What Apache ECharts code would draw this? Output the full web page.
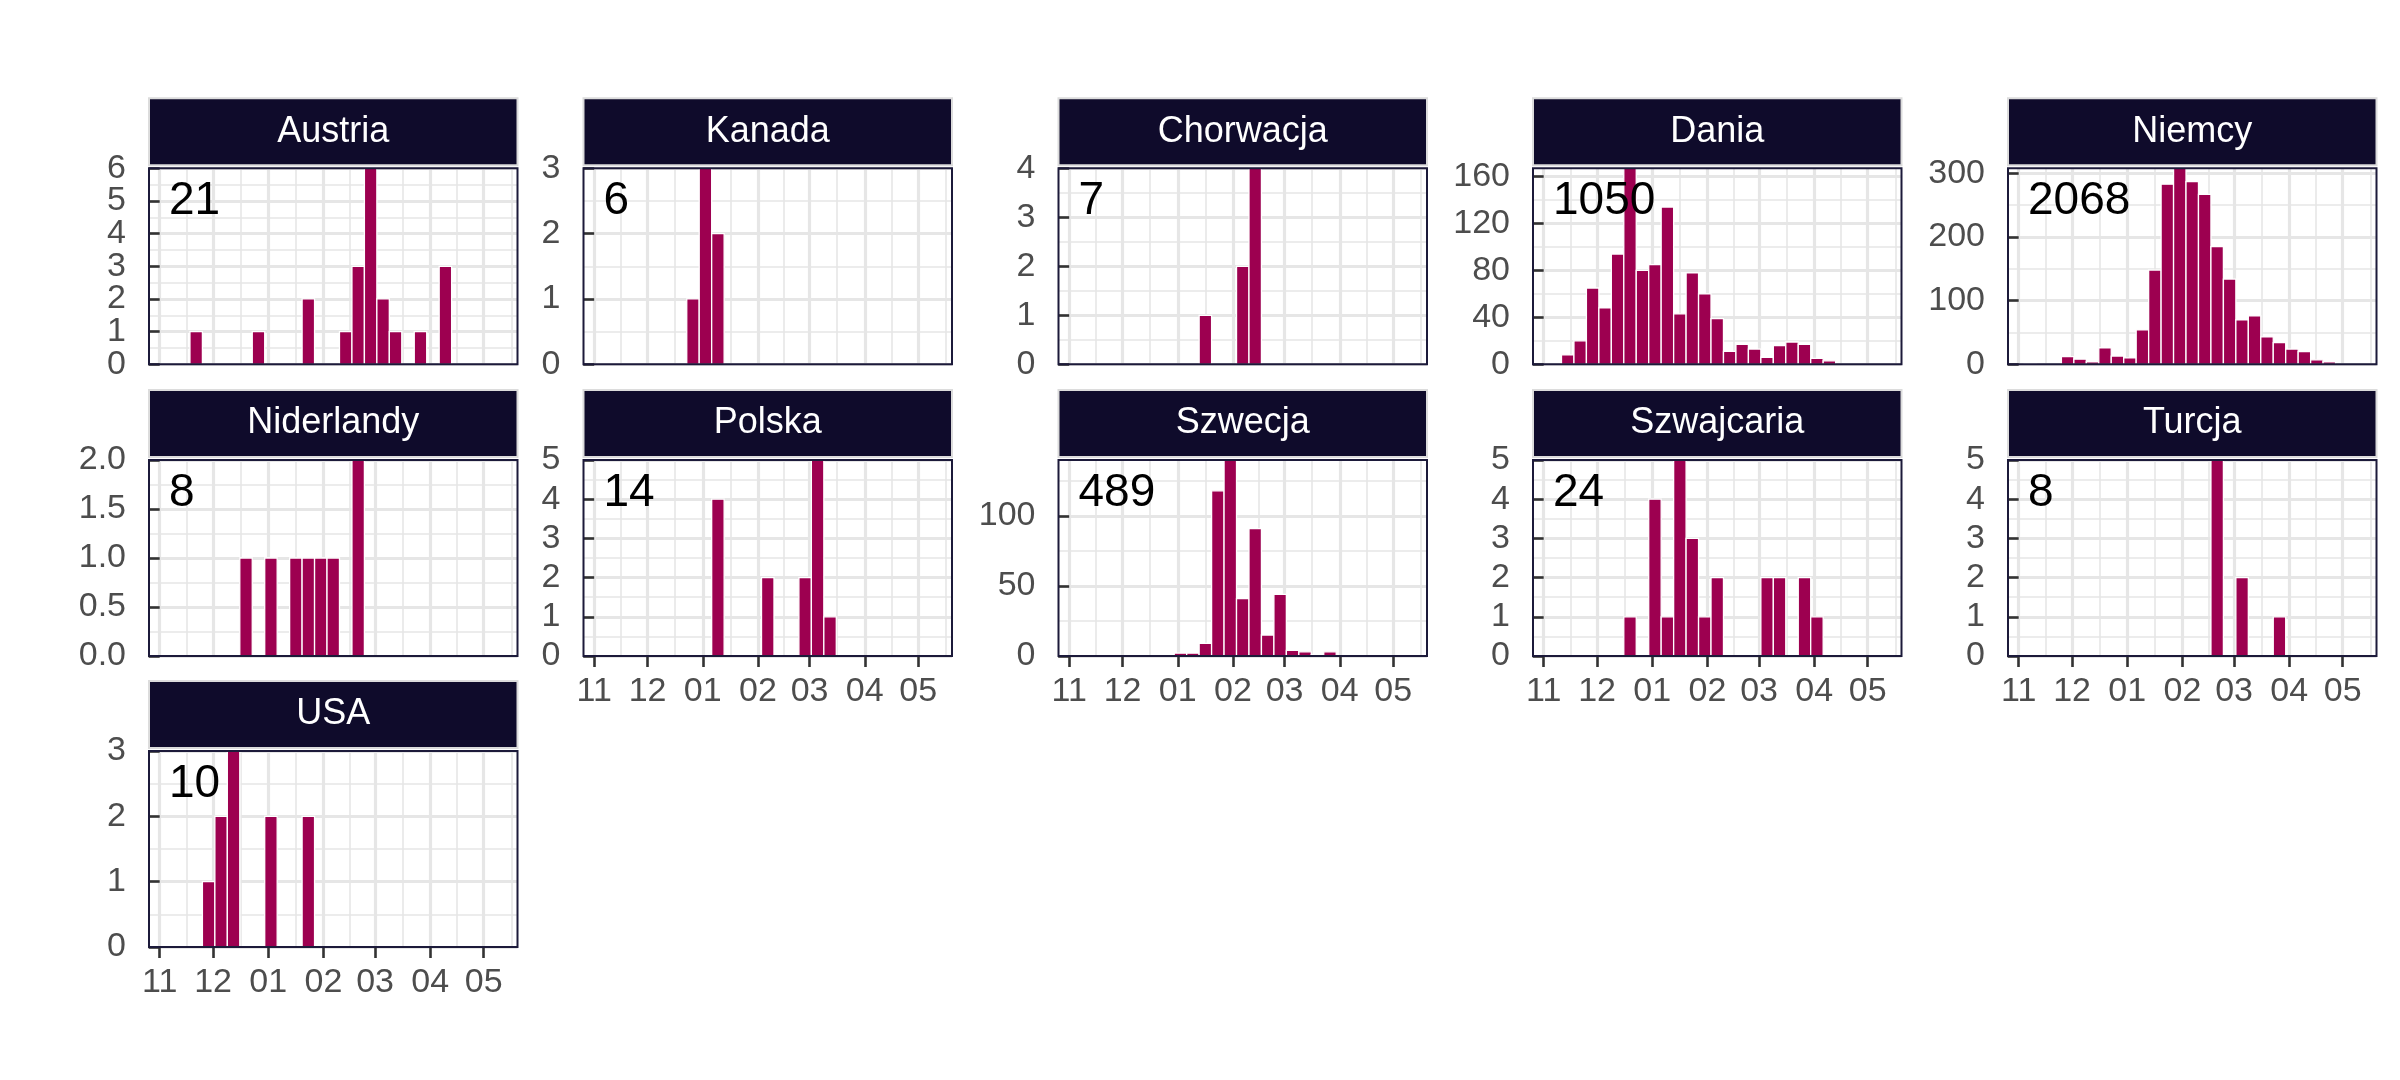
<!DOCTYPE html>
<html>
<head>
<meta charset="utf-8">
<script src="https://cdn.jsdelivr.net/npm/echarts@6/dist/echarts.min.js"></script>
<style>html,body{margin:0;padding:0;background:#fff}#c{width:2400px;height:1080px}</style>
</head>
<body>
<div id="c"></div>
<script>
// ---------------- DATA ----------------
const countries = ['Austria','Kanada','Chorwacja','Dania','Niemcy','Niderlandy','Polska','Szwecja','Szwajcaria','Turcja','USA'];
const totals = [21, 6, 7, 1050, 2068, 8, 14, 489, 24, 8, 10];

// weekly bins (start dates)
const binStarts = ['2019-11-04','2019-11-11','2019-11-18','2019-11-25','2019-12-02','2019-12-09','2019-12-16',
  '2019-12-23','2019-12-30','2020-01-06','2020-01-13','2020-01-20','2020-01-27','2020-02-03','2020-02-10',
  '2020-02-17','2020-02-24','2020-03-02','2020-03-09','2020-03-16','2020-03-23','2020-03-30','2020-04-06',
  '2020-04-13','2020-04-20'];
const binWidthDays = 7;

const austria    = [0,0,1,0,0,0,0,1,0,0,0,2,0,0,1,3,6,2,1,0,1,0,3,0,0];
const kanada     = [0,0,0,0,0,0,0,1,3,2,0,0,0,0,0,0,0,0,0,0,0,0,0,0,0];
const chorwacja  = [0,0,0,0,0,0,0,0,0,0,1,0,0,2,4,0,0,0,0,0,0,0,0,0,0];
const dania      = [0,8,20,65,48,94,167,80,85,134,43,78,60,39,11,17,13,6,16,19,17,5,3,0,0];
const niemcy     = [1,0,0,12,8,4,26,13,10,54,148,283,308,287,267,185,134,70,76,43,34,24,20,7,4];
const niderlandy = [0,0,0,0,0,0,1,0,1,0,1,1,1,1,0,2,0,0,0,0,0,0,0,0,0];
const polska     = [0,0,0,0,0,0,0,0,0,4,0,0,0,2,0,0,2,5,1,0,0,0,0,0,0];
const szwecja    = [0,0,0,0,0,0,0,0,2,2,9,118,140,41,91,15,44,4,3,1,3,0,0,0,0];
const szwajcaria = [0,0,0,0,0,0,1,0,4,1,5,3,1,2,0,0,0,2,2,0,2,1,0,0,0];
const turcja     = [0,0,0,0,0,0,0,0,0,0,0,0,0,0,0,5,0,2,0,0,1,0,0,0,0];
const usa        = [0,0,0,1,2,3,0,0,2,0,0,2,0,0,0,0,0,0,0,0,0,0,0,0,0];

// x axis: month ticks and labels
const monthTicks  = ['2019-11-01','2019-12-01','2020-01-01','2020-02-01','2020-03-01','2020-04-01','2020-05-01'];
const monthLabels = ['11','12','01','02','03','04','05'];
const monthAfterLast = '2020-06-01';
const xStart = '2019-10-26';
const xEnd   = '2020-05-20';

// y axis ticks per panel
const yTicksAustria    = [0,1,2,3,4,5,6];
const yTicksKanada     = [0,1,2,3];
const yTicksChorwacja  = [0,1,2,3,4];
const yTicksDania      = [0,40,80,120,160];
const yTicksNiemcy     = [0,100,200,300];
const yTicksNiderlandy = [0,0.5,1,1.5,2];
const yTicksPolska     = [0,1,2,3,4,5];
const yTicksSzwecja    = [0,50,100];
const yTicksSzwajcaria = [0,1,2,3,4,5];
const yTicksTurcja     = [0,1,2,3,4,5];
const yTicksUsa        = [0,1,2,3];

// ---------------- BUILD ----------------
const seriesValues = [austria,kanada,chorwacja,dania,niemcy,niderlandy,polska,szwecja,szwajcaria,turcja,usa];
const yTicksAll = [yTicksAustria,yTicksKanada,yTicksChorwacja,yTicksDania,yTicksNiemcy,yTicksNiderlandy,
  yTicksPolska,yTicksSzwecja,yTicksSzwajcaria,yTicksTurcja,yTicksUsa];

const ORIGIN = Date.parse('2019-11-01T00:00:00Z');
const dayOf = s => (Date.parse(s + 'T00:00:00Z') - ORIGIN) / 86400000;

const majorX = monthTicks.map(dayOf);
const bounds = majorX.concat([dayOf(monthAfterLast)]);
const minorX = majorX.map((v, i) => (v + bounds[i + 1]) / 2);
const xMin = dayOf(xStart), xMax = dayOf(xEnd);

const FONT = '"Liberation Sans", Arial, Helvetica, sans-serif';
const GRID_COLOR = '#e6e6e6';
const colLeft = [149, 583.5, 1058.5, 1533, 2008];
const rowTop = [168.3, 460, 751];
const panelW = 368.5, panelH = 196;
const bottomPanels = [6, 7, 8, 9, 10];

const grids = [], xAxes = [], yAxes = [], series = [], graphics = [];

const yLabelStyle = (vals, dec) => ({show: true, customValues: vals, fontSize: 34, color: '#4d4d4d', margin: 23,
  fontFamily: FONT, showMinLabel: true, showMaxLabel: true, hideOverlap: false,
  formatter: v => v.toFixed(dec)});

countries.forEach((name, i) => {
  const row = Math.floor(i / 5), col = i % 5;
  const left = colLeft[col], top = rowTop[row];
  const isBottom = bottomPanels.indexOf(i) >= 0;
  const vals = seriesValues[i];
  const yT = yTicksAll[i];
  const yMax = Math.max.apply(null, vals);
  const step = yT[1] - yT[0];
  const yMinor = yT.map(v => v + step / 2).filter(v => v < yMax);
  const dec = step < 1 ? 1 : 0;
  const yEven = yT.filter((v, k) => k % 2 === 0);
  const yOdd = yT.filter((v, k) => k % 2 === 1);

  grids.push({left: left, top: top, width: panelW, height: panelH, containLabel: false,
    outerBoundsMode: 'none', show: true, backgroundColor: '#ffffff', borderWidth: 0});

  xAxes.push({
    type: 'value', gridIndex: i, min: xMin, max: xMax, position: 'bottom',
    axisLine: {show: false},
    axisTick: {show: isBottom, customValues: majorX, length: 11, inside: false,
      lineStyle: {color: '#333333', width: 2.6}},
    axisLabel: {show: isBottom, customValues: majorX, fontSize: 34, color: '#4d4d4d', margin: 19,
      fontFamily: FONT, showMinLabel: true, showMaxLabel: true, hideOverlap: false,
      formatter: v => { const k = majorX.findIndex(m => Math.abs(m - v) < 1e-6); return k >= 0 ? monthLabels[k] : ''; }},
    splitLine: {show: true, showMinLine: true, showMaxLine: true, lineStyle: {color: GRID_COLOR, width: 3.2}}
  });
  xAxes.push({
    type: 'value', gridIndex: i, min: xMin, max: xMax, position: 'top',
    axisLine: {show: false},
    axisTick: {show: false, customValues: minorX},
    axisLabel: {show: false, customValues: minorX},
    splitLine: {show: true, lineStyle: {color: GRID_COLOR, width: 1.6}}
  });
  // primary y: data, major grid, ticks, even labels
  yAxes.push({
    type: 'value', gridIndex: i, min: 0, max: yMax, position: 'left',
    axisLine: {show: false},
    axisTick: {show: true, customValues: yT, length: 11, inside: false,
      lineStyle: {color: '#333333', width: 2.6}},
    axisLabel: yLabelStyle(yEven, dec),
    splitLine: {show: true, lineStyle: {color: GRID_COLOR, width: 3.2}}
  });
  // minor grid
  yAxes.push({
    type: 'value', gridIndex: i, min: 0, max: yMax, position: 'right',
    axisLine: {show: false},
    axisTick: {show: false, customValues: yMinor},
    axisLabel: {show: false, customValues: yMinor},
    splitLine: {show: true, lineStyle: {color: GRID_COLOR, width: 1.6}}
  });
  // odd labels (separate axis so tightly packed labels are not dropped)
  yAxes.push({
    type: 'value', gridIndex: i, min: 0, max: yMax, position: 'left', offset: 0,
    axisLine: {show: false},
    axisTick: {show: false, customValues: yOdd.length ? yOdd : [0]},
    axisLabel: Object.assign(yLabelStyle(yOdd.length ? yOdd : [0], dec), {show: yOdd.length > 0}),
    splitLine: {show: false}
  });

  const data = [];
  vals.forEach((c, j) => {
    if (c > 0) { const s = dayOf(binStarts[j]); data.push([s, s + binWidthDays, c]); }
  });
  series.push({
    type: 'custom', name: name, xAxisIndex: 2 * i, yAxisIndex: 3 * i,
    encode: {x: [0, 1], y: 2}, data: data, z: 5,
    renderItem: (params, api) => {
      const a = api.coord([api.value(0), api.value(2)]);
      const b = api.coord([api.value(1), 0]);
      return {type: 'rect', shape: {x: a[0], y: a[1], width: b[0] - a[0], height: b[1] - a[1]},
        style: {fill: '#9d0050', stroke: '#ffffff', lineWidth: 1.3}};
    }
  });

  // strip
  graphics.push({type: 'rect', z: 100, shape: {x: left, y: top - 70, width: panelW, height: 67},
    style: {fill: '#0f0b2b', stroke: '#dcdcdc', lineWidth: 2}});
  graphics.push({type: 'text', z: 101, style: {text: name, x: left + panelW / 2, y: top - 36.5,
    fill: '#ffffff', font: '36px ' + FONT, align: 'center', verticalAlign: 'middle',
    textAlign: 'center', textVerticalAlign: 'middle'}});
  // panel border
  graphics.push({type: 'rect', z: 100, shape: {x: left, y: top, width: panelW, height: panelH},
    style: {fill: 'none', stroke: '#1c1a3a', lineWidth: 2}});
  // total annotation
  graphics.push({type: 'text', z: 101, style: {text: String(totals[i]), x: left + 20, y: top + 33,
    fill: '#000000', font: '46px ' + FONT, align: 'left', verticalAlign: 'middle',
    textAlign: 'left', textVerticalAlign: 'middle'}});
});

const chart = echarts.init(document.getElementById('c'), null, {renderer: 'canvas', width: 2400, height: 1080});
chart.setOption({
  backgroundColor: '#ffffff',
  animation: false,
  textStyle: {fontFamily: FONT},
  grid: grids, xAxis: xAxes, yAxis: yAxes, series: series,
  graphic: {elements: graphics}
});
</script>
</body>
</html>
